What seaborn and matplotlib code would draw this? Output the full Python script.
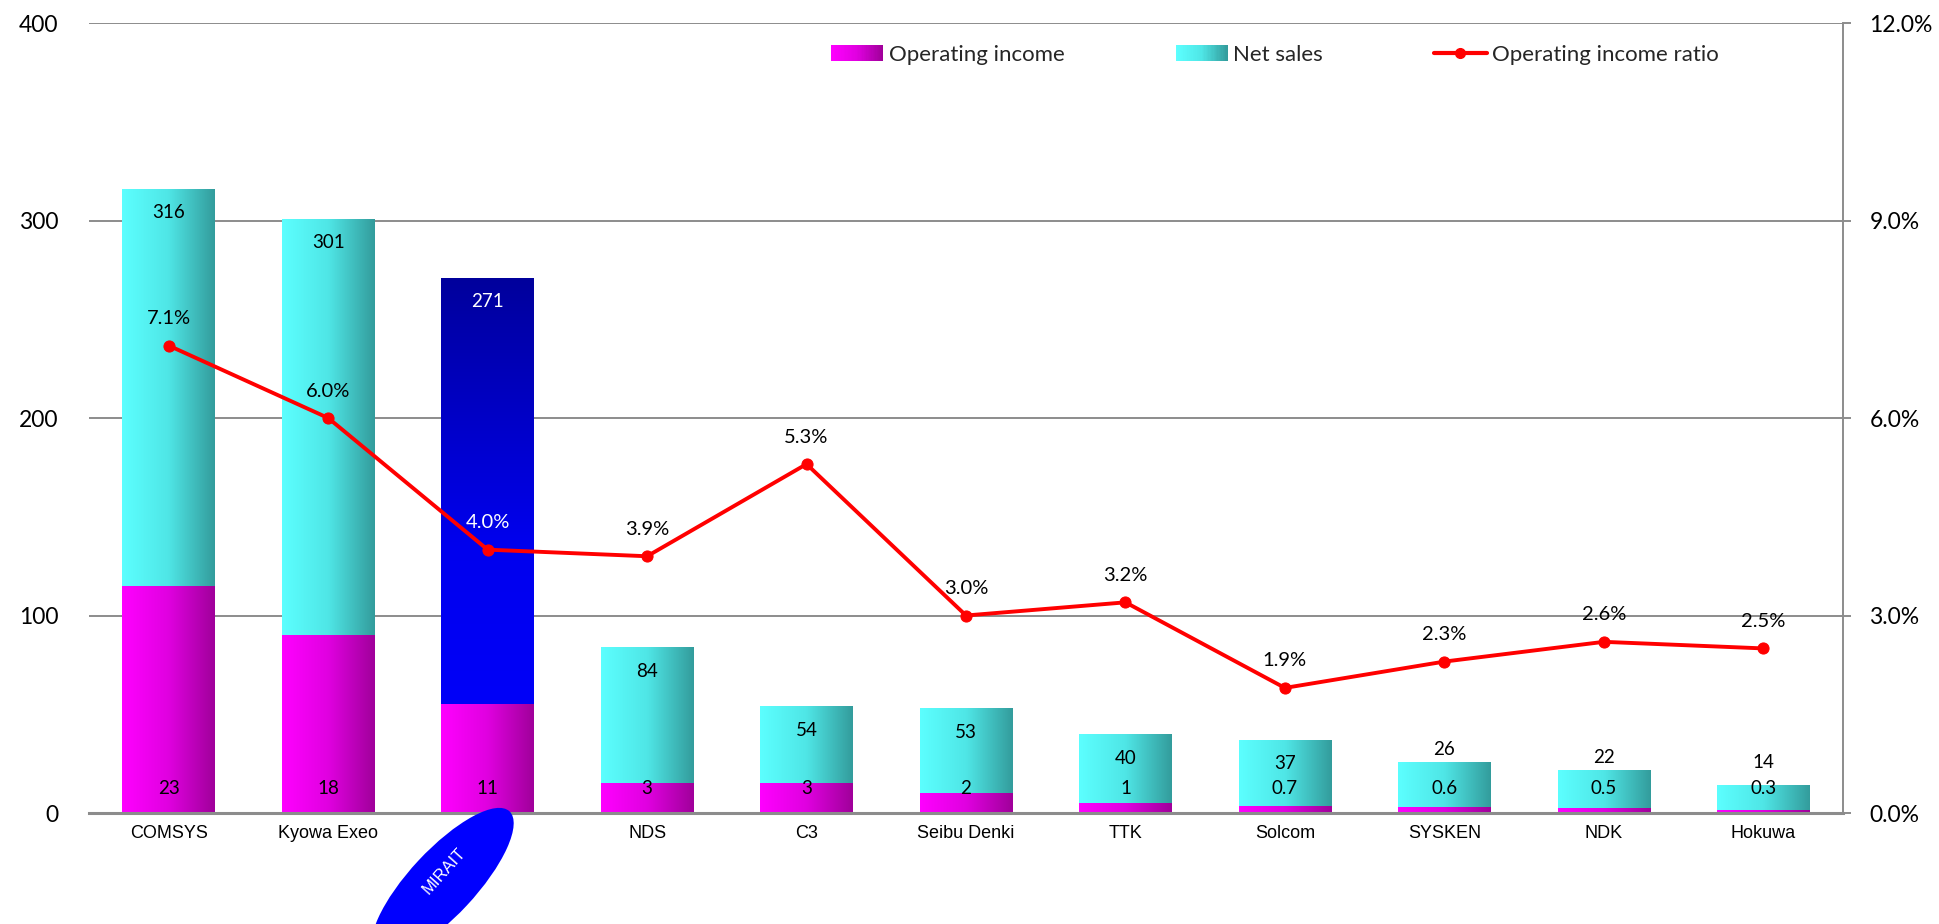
import numpy as np
import matplotlib
matplotlib.use("Agg")
import matplotlib.pyplot as plt
import seaborn as sns
from matplotlib.colors import LinearSegmentedColormap
from matplotlib.patches import Ellipse, Rectangle
from matplotlib.lines import Line2D
from matplotlib.legend_handler import HandlerBase
from matplotlib.ticker import FuncFormatter

# ---- data (¥ billion) ----
companies = ["COMSYS", "Kyowa Exeo", "MIRAIT", "NDS", "C3", "Seibu Denki",
             "TTK", "Solcom", "SYSKEN", "NDK", "Hokuwa"]
net_sales = [316, 301, 271, 84, 54, 53, 40, 37, 26, 22, 14]
operating_income = [23, 18, 11, 3, 3, 2, 1, 0.7, 0.6, 0.5, 0.3]
income_ratio = [7.1, 6.0, 4.0, 3.9, 5.3, 3.0, 3.2, 1.9, 2.3, 2.6, 2.5]
highlight = "MIRAIT"
income_scale = 5  # operating income bars are drawn at 5x on the sales axis

sns.set_theme(style="white")
plt.rcParams["font.family"] = ["Lato", "DejaVu Sans"]

DPI = 100
fig = plt.figure(figsize=(19.39, 9.24), dpi=DPI)
ax = fig.add_axes([89 / 1939, 1 - 813 / 924, (1843 - 89) / 1939, (813 - 23) / 924])

n = len(companies)
pos = np.arange(n)

pink = LinearSegmentedColormap.from_list("pink", ["#ff00ff", "#e000e0", "#a0009a"])
cyan = LinearSegmentedColormap.from_list("cyan", ["#5cffff", "#4fe6e6", "#339c9c"])
navy = LinearSegmentedColormap.from_list("navy", ["#0000ff", "#0000ee", "#00009c"])

sns.barplot(x=companies, y=net_sales, ax=ax, width=0.58, color="#5cffff",
            errorbar=None, saturation=1)
sns.barplot(x=companies, y=[v * income_scale for v in operating_income], ax=ax,
            width=0.58, color="#ff00ff", errorbar=None, saturation=1)

ax.set_xlim(-0.5, n - 0.5)
ax.set_ylim(0, 400)


def fill_gradient(patch, cmap, vertical, z):
    x0, y0 = patch.get_x(), patch.get_y()
    w, h = patch.get_width(), patch.get_height()
    g = np.linspace(0, 1, 256)
    arr = g[:, None] if vertical else g[None, :]
    im = ax.imshow(arr, cmap=cmap, extent=[x0, x0 + w, y0, y0 + h], origin="lower",
                   aspect="auto", interpolation="bilinear", zorder=z)
    im.set_clip_path(patch)
    patch.set_facecolor("none")
    patch.set_edgecolor("none")


patches = list(ax.patches)
sales_bars = patches[:n]
income_bars = patches[n:2 * n]
for name, p in zip(companies, sales_bars):
    if name == highlight:
        fill_gradient(p, navy, True, 2)
    else:
        fill_gradient(p, cyan, False, 2)
for p in income_bars:
    fill_gradient(p, pink, False, 3)

ax.set_xlim(-0.5, n - 0.5)
ax.set_ylim(0, 400)
ax.set_yticks([0, 100, 200, 300, 400])
ax.yaxis.grid(True, color="#8c8c8c", linewidth=1.4)
ax.xaxis.grid(False)
ax.set_axisbelow(True)
for s in ["left", "top", "right"]:
    ax.spines[s].set_visible(False)
ax.spines["bottom"].set_color("#8c8c8c")
ax.spines["bottom"].set_linewidth(2.2)
ax.spines["bottom"].set_zorder(5)
ax.tick_params(axis="y", length=0, pad=22, labelsize=16.5, labelcolor="black")
ax.tick_params(axis="x", length=0, pad=9)
ax.set_xlabel("")
ax.set_ylabel("")
ax.set_xticks(pos)
ax.set_xticklabels(["" if c == highlight else c for c in companies],
                   fontfamily="Liberation Sans", fontsize=13, color="black")

# secondary axis: operating income ratio
ax2 = ax.twinx()
sns.lineplot(x=pos, y=income_ratio, ax=ax2, color="#ff0000", linewidth=2.8,
             marker="o", markersize=8, markeredgecolor="#ff0000", zorder=6)
ax2.set_ylim(0, 12)
ax2.set_xlim(-0.5, n - 0.5)
ax2.set_yticks([0, 3, 6, 9, 12])
ax2.yaxis.set_major_formatter(FuncFormatter(lambda v, _: f"{v:.1f}%"))
ax2.grid(False)
for s in ["left", "top", "bottom"]:
    ax2.spines[s].set_visible(False)
ax2.spines["right"].set_color("#8c8c8c")
ax2.spines["right"].set_linewidth(1.4)
ax2.tick_params(axis="y", length=6, width=1.4, color="#8c8c8c", pad=13,
                labelsize=16.5, labelcolor="black", right=True)
ax2.set_ylabel("")

px2pt = 72 / DPI
base_px = ax.transData.transform((0, 0))[1]

# data labels
for i, (name, s, oi, r) in enumerate(zip(companies, net_sales, operating_income, income_ratio)):
    txt_color = "white" if name == highlight else "black"
    h_px = ax.transData.transform((i, s))[1] - base_px
    lab_px = h_px - 24 if h_px - 24 >= 45 else max(h_px + 12, 51)
    ax.annotate(f"{s:g}", xy=(i, 0), xytext=(0, lab_px * px2pt), textcoords="offset points",
                ha="center", va="center", fontsize=13.5, color=txt_color, zorder=7)
    ax.annotate(f"{oi:g}", xy=(i, 0), xytext=(0, 25 * px2pt), textcoords="offset points",
                ha="center", va="center", fontsize=13.5, color="black", zorder=7)
    ax2.annotate(f"{r:.1f}%", xy=(i, r), xytext=(0, 27 * px2pt), textcoords="offset points",
                 ha="center", va="center", fontsize=14.5, color=txt_color, zorder=7)

# highlighted category label in a blue ellipse
hi = companies.index(highlight)
cx = ax.transData.transform((hi, 0))[0] - 45
cy = base_px - 70
ell = Ellipse((cx, cy), 196, 66, angle=47, facecolor="#0000ff", edgecolor="none",
              transform=None, clip_on=False, zorder=10)
fig.patches.append(ell)
ell.set_figure(fig)
fig.text((cx + 2) / fig.bbox.width, (cy + 12) / fig.bbox.height, highlight, rotation=48,
         ha="center", va="center", color="white", fontsize=12,
         fontfamily="Liberation Sans", zorder=11)


# legend
class GradientHandler(HandlerBase):
    def __init__(self, cmap):
        super().__init__()
        self.cmap = cmap

    def create_artists(self, legend, orig_handle, xdescent, ydescent, width, height,
                       fontsize, trans):
        k = 40
        out = []
        for j in range(k):
            out.append(Rectangle((-xdescent + width * j / k, -ydescent), width / k * 1.1,
                                 height, facecolor=self.cmap(j / (k - 1)), edgecolor="none",
                                 transform=trans))
        return out


h_inc = Rectangle((0, 0), 1, 1)
h_sales = Rectangle((0, 0), 1, 1)
h_ratio = Line2D([], [], color="#ff0000", linewidth=3, marker="o", markersize=7)
leg = ax2.legend([h_inc, h_sales, h_ratio],
                 ["Operating income", "Net sales", "Operating income ratio"],
                 handler_map={h_inc: GradientHandler(pink), h_sales: GradientHandler(cyan)},
                 ncol=3, frameon=False, fontsize=16, loc="center left",
                 bbox_to_anchor=((831 - 89) / 1754, (813 - 55) / 790),
                 borderpad=0, borderaxespad=0, handlelength=2.35, handleheight=0.75,
                 handletextpad=0.25, columnspacing=5.0)

fig.savefig("out.png", dpi=DPI, facecolor="white")
